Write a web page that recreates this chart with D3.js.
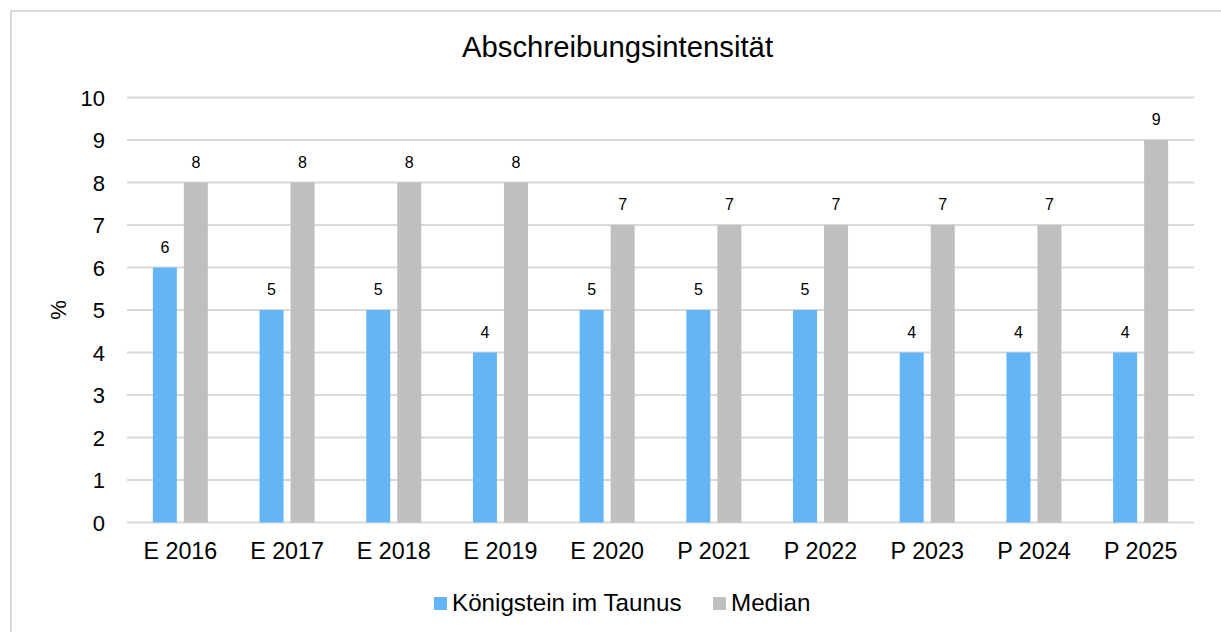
<!DOCTYPE html>
<html>
<head>
<meta charset="utf-8">
<script src="https://cdn.jsdelivr.net/npm/d3@7"></script>
<style>
html,body{margin:0;padding:0;background:#fff;}
svg{display:block;font-family:"Liberation Sans",Arial,sans-serif;}
</style>
</head>
<body>
<svg id="chart" width="1221" height="632"></svg>
<script>
const categories = ["E 2016","E 2017","E 2018","E 2019","E 2020","P 2021","P 2022","P 2023","P 2024","P 2025"];
const seriesNames = ["Königstein im Taunus","Median"];
const koenigstein = [6,5,5,4,5,5,5,4,4,4];
const median = [8,8,8,8,7,7,7,7,7,9];
const yTicks = [0,1,2,3,4,5,6,7,8,9,10];
const colors = ["#64B5F6","#BFBFBF"];

(function(){
const svg = d3.select("#chart");
svg.append("rect").attr("x",11).attr("y",11).attr("width",1240).attr("height",660)
  .attr("fill","#fff").attr("stroke","#D9D9D9").attr("stroke-width",2);

const pLeft = 127, pRight = 1194, pTop = 97.5, pBottom = 522.5;
const y = d3.scaleLinear().domain([0,10]).range([pBottom, pTop]);
const x0 = d3.scaleBand().domain(categories).range([pLeft, pRight]).padding(0);
const groupW = 55;
const x1 = d3.scaleBand().domain(seriesNames)
  .range([(x0.bandwidth()-groupW)/2, (x0.bandwidth()+groupW)/2]).paddingInner(0.226);

// gridlines
svg.append("g").selectAll("line").data(yTicks).join("line")
  .attr("x1",pLeft).attr("x2",pRight)
  .attr("y1",d=>y(d)).attr("y2",d=>y(d))
  .attr("stroke","#D9D9D9").attr("stroke-width",2);

// y axis labels
const yAxis = d3.axisLeft(y).tickValues(yTicks).tickSize(0).tickPadding(22);
const gy = svg.append("g").attr("transform",`translate(${pLeft},0)`).call(yAxis);
gy.select(".domain").remove();
gy.selectAll("text").attr("font-size",22).attr("fill","#000").attr("dy","0.36em")
  .style("font-family","Liberation Sans, Arial, sans-serif");

// x axis labels
const xAxis = d3.axisBottom(x0).tickSize(0).tickPadding(20);
const gx = svg.append("g").attr("transform",`translate(0,${pBottom})`).call(xAxis);
gx.select(".domain").remove();
gx.selectAll("text").attr("font-size",23.3).attr("fill","#000")
  .style("font-family","Liberation Sans, Arial, sans-serif");

// bars
const data = categories.map((c,i)=>({cat:c, vals:[{s:seriesNames[0],v:koenigstein[i],k:0},{s:seriesNames[1],v:median[i],k:1}]}));
const groups = svg.append("g").selectAll("g").data(data).join("g")
  .attr("transform",d=>`translate(${x0(d.cat)},0)`);
groups.selectAll("rect").data(d=>d.vals).join("rect")
  .attr("x",d=>x1(d.s)).attr("width",x1.bandwidth())
  .attr("y",d=>y(d.v)).attr("height",d=>y(0)-y(d.v))
  .attr("fill",d=>colors[d.k]);
groups.selectAll("text").data(d=>d.vals).join("text")
  .attr("x",d=>x1(d.s)+x1.bandwidth()/2).attr("y",d=>y(d.v)-15)
  .attr("text-anchor","middle").attr("font-size",16).attr("fill","#000")
  .text(d=>d.v);

// title
svg.append("text").attr("x",617.5).attr("y",56.5).attr("text-anchor","middle")
  .attr("font-size",29.3).attr("fill","#000").text("Abschreibungsintensität");

// y title
svg.append("text").attr("transform","translate(66,310) rotate(-90)")
  .attr("text-anchor","middle").attr("font-size",22).attr("fill","#000").text("%");

// legend
const legend = [{name:seriesNames[0],x:434,c:colors[0]},{name:seriesNames[1],x:713,c:colors[1]}];
const lg = svg.append("g").selectAll("g").data(legend).join("g")
  .attr("transform",d=>`translate(${d.x},0)`);
lg.append("rect").attr("x",0).attr("y",597).attr("width",13).attr("height",13).attr("fill",d=>d.c);
lg.append("text").attr("x",18).attr("y",611).attr("font-size",24.2).attr("fill","#000").text(d=>d.name);
})();
</script>
</body>
</html>
